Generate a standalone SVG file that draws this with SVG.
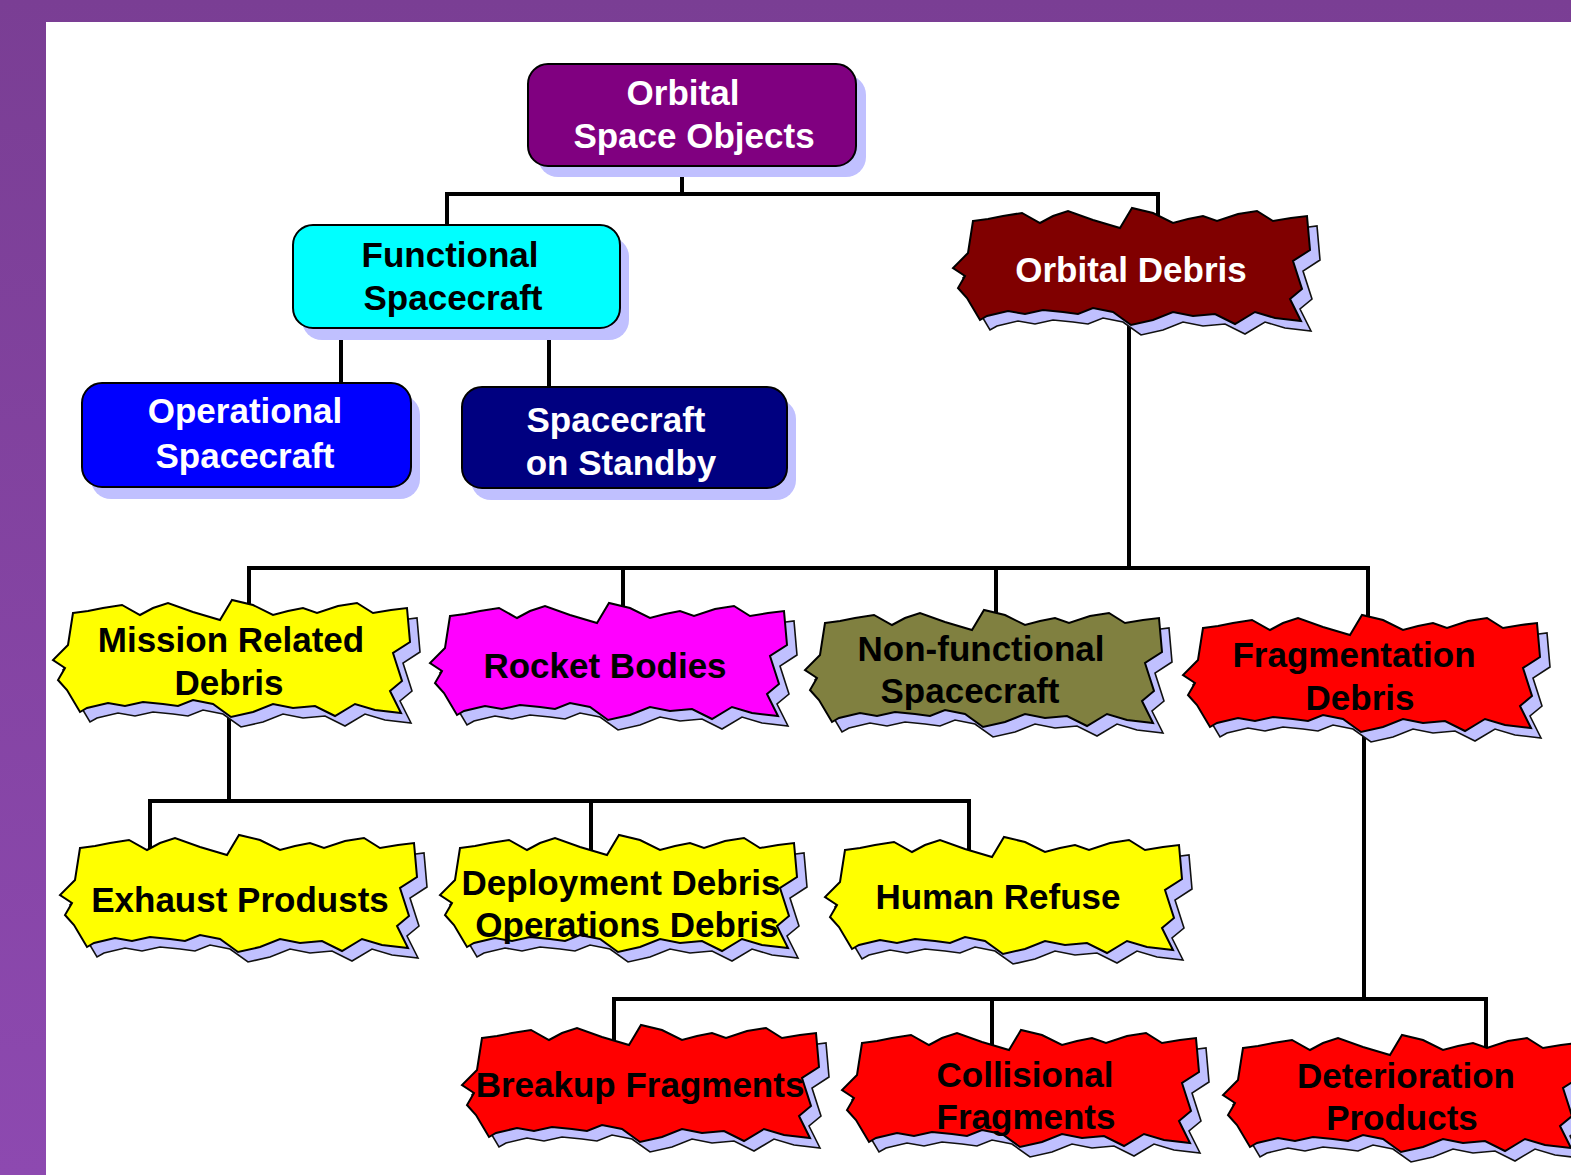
<svg xmlns="http://www.w3.org/2000/svg" xmlns:xlink="http://www.w3.org/1999/xlink" width="1571" height="1175" viewBox="0 0 1571 1175">
<defs>
<linearGradient id="bg" x1="0" y1="0" x2="0" y2="1">
<stop offset="0" stop-color="#7a3e94"/>
<stop offset="1" stop-color="#8d49b0"/>
</linearGradient>
<path id="jag" d="M20,13 L35,11 L50,8 L69,5 L87,15 L100,8 L115,3 L140,12 L167,20 L179,0 L200,5 L220,15 L235,11 L250,8 L264,13 L285,6 L304,3 L320,13 L338,10 L354,8 L357,42 L340,53 L349,81 L337,91 L348,113 L322,110 L302,104 L282,116 L262,106 L240,108 L220,104 L200,112 L178,117 L160,104 L140,100 L125,106 L110,104 L90,102 L72,106 L55,103 L34,108 L27,112 L14,90 L5,80 L12,68 L0,60 L15,45 Z"/>
<style>
.rshadow{fill:#c0c0ff}
.rbox{stroke:#000;stroke-width:2}
.jshadow{fill:#c0c0ff;stroke:#111;stroke-width:1.6}
.jbox{stroke:#000;stroke-width:2}
.t{font-family:"Liberation Sans",Arial,sans-serif;font-weight:bold;font-size:35px;text-anchor:middle}
.w{fill:#fff}
.k{fill:#000}
.conn{fill:none;stroke:#000;stroke-width:4;stroke-linecap:square;stroke-linejoin:miter}
</style>
</defs>
<rect x="0" y="0" width="1571" height="1175" fill="url(#bg)"/>
<rect x="46" y="22" width="1525" height="1153" fill="#fff"/>

<g id="connectors" class="conn">
<path d="M682,166 V194 M447,225 V194 H1158 V230"/>
<path d="M341,328 V383 M549,328 V387"/>
<path d="M1129,320 V568 M249,615 V568 H1368 V630 M623,568 V620 M996,568 V625"/>
<path d="M229,710 V801 M150,850 V801 H969 V855 M591,801 V855"/>
<path d="M1364,730 V999 M614,1045 V999 H1486 V1050 M992,999 V1050"/>
</g>

<g id="orbital-space-objects">
<rect class="rshadow" x="538" y="75" width="328" height="102" rx="20"/>
<rect class="rbox" x="528" y="64" width="328" height="102" rx="20" fill="#800080"/>
<text class="t w" x="683" y="105">Orbital</text>
<text class="t w" x="694" y="148">Space Objects</text>
</g>

<g id="functional-spacecraft">
<rect class="rshadow" x="302" y="237" width="327" height="103" rx="20"/>
<rect class="rbox" x="293" y="225" width="327" height="103" rx="20" fill="#00ffff"/>
<text class="t k" x="450" y="267">Functional</text>
<text class="t k" x="453" y="310">Spacecraft</text>
</g>

<g id="operational-spacecraft">
<rect class="rshadow" x="91" y="395" width="329" height="104" rx="20"/>
<rect class="rbox" x="82" y="383" width="329" height="104" rx="20" fill="#0000ff"/>
<text class="t w" x="245" y="423">Operational</text>
<text class="t w" x="245" y="468">Spacecraft</text>
</g>

<g id="spacecraft-on-standby">
<rect class="rshadow" x="471" y="399" width="325" height="101" rx="20"/>
<rect class="rbox" x="462" y="387" width="325" height="101" rx="20" fill="#000080"/>
<text class="t w" x="616" y="432">Spacecraft</text>
<text class="t w" x="621" y="475">on Standby</text>
</g>

<g id="orbital-debris">
<use xlink:href="#jag" class="jshadow" transform="translate(963,218)"/>
<use xlink:href="#jag" class="jbox" fill="#800000" transform="translate(953,208)"/>
<text class="t w" x="1131" y="282">Orbital Debris</text>
</g>

<g id="mission-related-debris">
<use xlink:href="#jag" class="jshadow" transform="translate(63,610)"/>
<use xlink:href="#jag" class="jbox" fill="#ffff00" transform="translate(53,600)"/>
<text class="t k" x="231" y="652">Mission Related</text>
<text class="t k" x="229" y="695">Debris</text>
</g>

<g id="rocket-bodies">
<use xlink:href="#jag" class="jshadow" transform="translate(440,613)"/>
<use xlink:href="#jag" class="jbox" fill="#ff00ff" transform="translate(430,603)"/>
<text class="t k" x="605" y="678">Rocket Bodies</text>
</g>

<g id="non-functional-spacecraft">
<use xlink:href="#jag" class="jshadow" transform="translate(815,620)"/>
<use xlink:href="#jag" class="jbox" fill="#808040" transform="translate(805,610)"/>
<text class="t k" x="981" y="661">Non-functional</text>
<text class="t k" x="970" y="703">Spacecraft</text>
</g>

<g id="fragmentation-debris">
<use xlink:href="#jag" class="jshadow" transform="translate(1193,625)"/>
<use xlink:href="#jag" class="jbox" fill="#ff0000" transform="translate(1183,615)"/>
<text class="t k" x="1354" y="667">Fragmentation</text>
<text class="t k" x="1360" y="710">Debris</text>
</g>

<g id="exhaust-products">
<use xlink:href="#jag" class="jshadow" transform="translate(70,845)"/>
<use xlink:href="#jag" class="jbox" fill="#ffff00" transform="translate(60,835)"/>
<text class="t k" x="240" y="912">Exhaust Produsts</text>
</g>

<g id="deployment-operations-debris">
<use xlink:href="#jag" class="jshadow" transform="translate(450,845)"/>
<use xlink:href="#jag" class="jbox" fill="#ffff00" transform="translate(440,835)"/>
<text class="t k" x="621" y="895">Deployment Debris</text>
<text class="t k" x="627" y="937">Operations Debris</text>
</g>

<g id="human-refuse">
<use xlink:href="#jag" class="jshadow" transform="translate(835,847)"/>
<use xlink:href="#jag" class="jbox" fill="#ffff00" transform="translate(825,837)"/>
<text class="t k" x="998" y="909">Human Refuse</text>
</g>

<g id="breakup-fragments">
<use xlink:href="#jag" class="jshadow" transform="translate(472,1035)"/>
<use xlink:href="#jag" class="jbox" fill="#ff0000" transform="translate(462,1025)"/>
<text class="t k" x="640" y="1097">Breakup Fragments</text>
</g>

<g id="collisional-fragments">
<use xlink:href="#jag" class="jshadow" transform="translate(852,1040)"/>
<use xlink:href="#jag" class="jbox" fill="#ff0000" transform="translate(842,1030)"/>
<text class="t k" x="1025" y="1087">Collisional</text>
<text class="t k" x="1026" y="1129">Fragments</text>
</g>

<g id="deterioration-products">
<use xlink:href="#jag" class="jshadow" transform="translate(1233,1045)"/>
<use xlink:href="#jag" class="jbox" fill="#ff0000" transform="translate(1223,1035)"/>
<text class="t k" x="1406" y="1088">Deterioration</text>
<text class="t k" x="1402" y="1130">Products</text>
</g>
</svg>
